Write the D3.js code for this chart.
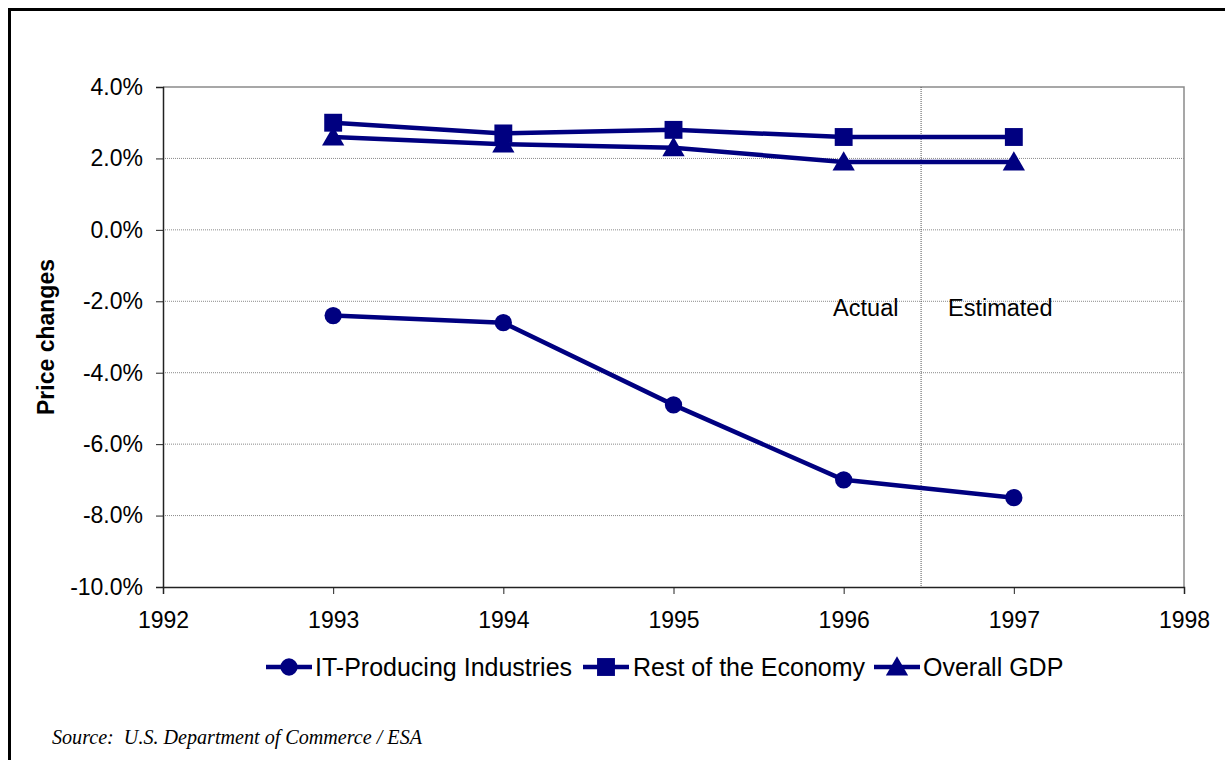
<!DOCTYPE html>
<html><head><meta charset="utf-8">
<script src="https://cdn.jsdelivr.net/npm/d3@7"></script>
<style>body{margin:0;background:#fff;}svg{display:block;}</style>
</head><body>
<svg id="chart" width="1225" height="760"></svg>
<script>
const years = [1993, 1994, 1995, 1996, 1997];
const itProducing = [-2.4, -2.6, -4.9, -7.0, -7.5];
const restOfEconomy = [3.0, 2.7, 2.8, 2.6, 2.6];
const overallGDP = [2.6, 2.4, 2.3, 1.9, 1.9];
const seriesNames = ["IT-Producing Industries", "Rest of the Economy", "Overall GDP"];
const seriesMarkers = ["circle", "square", "triangle"];
const yTicks = [4, 2, 0, -2, -4, -6, -8, -10];
const xTicks = [1992, 1993, 1994, 1995, 1996, 1997, 1998];
const dividerYear = 1996.455;
const periodLabels = [{text: "Actual", year: 1996.13}, {text: "Estimated", year: 1996.92}];
const periodLabelValue = -2.2;
const sourceText = "Source:  U.S. Department of Commerce / ESA";

const svg = d3.select("#chart");
const navy = "#000080";
const font = "'Liberation Sans', Arial, sans-serif";
const x = d3.scaleLinear().domain([1992, 1998]).range([163, 1184]);
const y = d3.scaleLinear().domain([-10, 4]).range([587, 87]);

// outer border
svg.append("rect").attr("x", 9.5).attr("y", 9.5).attr("width", 1240).attr("height", 800)
  .attr("fill", "none").attr("stroke", "#000").attr("stroke-width", 3);

// gridlines
svg.append("g").selectAll("line").data(yTicks.filter(d => d !== -10 && d !== 4)).join("line")
  .attr("x1", x(1992)).attr("x2", x(1998)).attr("y1", d => y(d)).attr("y2", d => y(d))
  .attr("stroke", "#8a8a8a").attr("stroke-width", 1).attr("stroke-dasharray", "1,1");

// top & right frame
svg.append("path").attr("d", `M${x(1992)},${y(4)}H${x(1998)}V${y(-10)}`)
  .attr("fill", "none").attr("stroke", "#8a8a8a").attr("stroke-width", 1.5);

// divider
svg.append("line").attr("x1", x(dividerYear)).attr("x2", x(dividerYear))
  .attr("y1", y(4)).attr("y2", y(-10))
  .attr("stroke", "#555").attr("stroke-width", 1).attr("stroke-dasharray", "1,1");

// axes
const yAxis = d3.axisLeft(y).tickValues(yTicks).tickFormat(d => d.toFixed(1) + "%").tickSize(7).tickPadding(13);
const gy = svg.append("g").attr("transform", `translate(${x(1992)},0)`).call(yAxis);
const xAxis = d3.axisBottom(x).tickValues(xTicks).tickFormat(d3.format("d")).tickSize(7).tickPadding(18);
const gx = svg.append("g").attr("transform", `translate(0,${y(-10)})`).call(xAxis);
[gx, gy].forEach(g => {
  g.select(".domain").attr("stroke", "#222").attr("stroke-width", 1.5);
  g.selectAll(".tick line").attr("stroke", "#222").attr("stroke-width", 1);
  g.selectAll("text").attr("font-family", font).attr("font-size", 23).attr("fill", "#000");
});

// axis title
svg.append("text").attr("transform", `translate(54,${y(-3)}) rotate(-90)`)
  .attr("text-anchor", "middle").attr("font-family", font)
  .attr("font-weight", "bold").attr("font-size", 23).text("Price changes");

// period labels
svg.append("g").selectAll("text").data(periodLabels).join("text")
  .attr("x", d => x(d.year)).attr("y", y(periodLabelValue))
  .attr("text-anchor", "middle").attr("dominant-baseline", "central")
  .attr("font-family", font).attr("font-size", 23.5)
  .text(d => d.text);

// markers
const sym = {
  circle: d3.symbol(d3.symbolCircle, 235),
  square: d3.symbol(d3.symbolSquare, 320),
  triangle: d3.symbol(d3.symbolTriangle, 215)
};

const allSeries = [itProducing, restOfEconomy, overallGDP];
const line = d3.line().x((d, i) => x(years[i])).y(d => y(d));
allSeries.forEach((vals, si) => {
  const g = svg.append("g");
  g.append("path").datum(vals).attr("d", line).attr("fill", "none")
    .attr("stroke", navy).attr("stroke-width", 4.5).attr("stroke-linejoin", "round");
  g.selectAll("path.m").data(vals).join("path").attr("class", "m")
    .attr("transform", (d, i) => `translate(${x(years[i])},${y(d) + (seriesMarkers[si] === "triangle" ? 2 : 0)})`)
    .attr("d", sym[seriesMarkers[si]]).attr("fill", navy);
});

// legend
const legendItems = [{lx: 266, tx: 315}, {lx: 583, tx: 633}, {lx: 874, tx: 923}];
const ly = 667;
const lg = svg.append("g");
legendItems.forEach((p, i) => {
  lg.append("line").attr("x1", p.lx).attr("x2", p.lx + 46).attr("y1", ly).attr("y2", ly)
    .attr("stroke", navy).attr("stroke-width", 4.5);
  lg.append("path").attr("transform", `translate(${p.lx + 23},${ly + (seriesMarkers[i] === "triangle" ? 2 : 0)})`)
    .attr("d", sym[seriesMarkers[i]]).attr("fill", navy);
  lg.append("text").attr("x", p.tx).attr("y", ly).attr("dominant-baseline", "central")
    .attr("font-family", font).attr("font-size", 25)
    .text(seriesNames[i]);
});

// source
svg.append("text").attr("x", 52).attr("y", 744)
  .attr("font-family", "'Liberation Serif', 'Times New Roman', serif").attr("font-style", "italic")
  .attr("font-size", 20).attr("xml:space", "preserve").style("white-space", "pre")
  .attr("textLength", 370).attr("lengthAdjust", "spacingAndGlyphs").text(sourceText);
</script>
</body></html>
